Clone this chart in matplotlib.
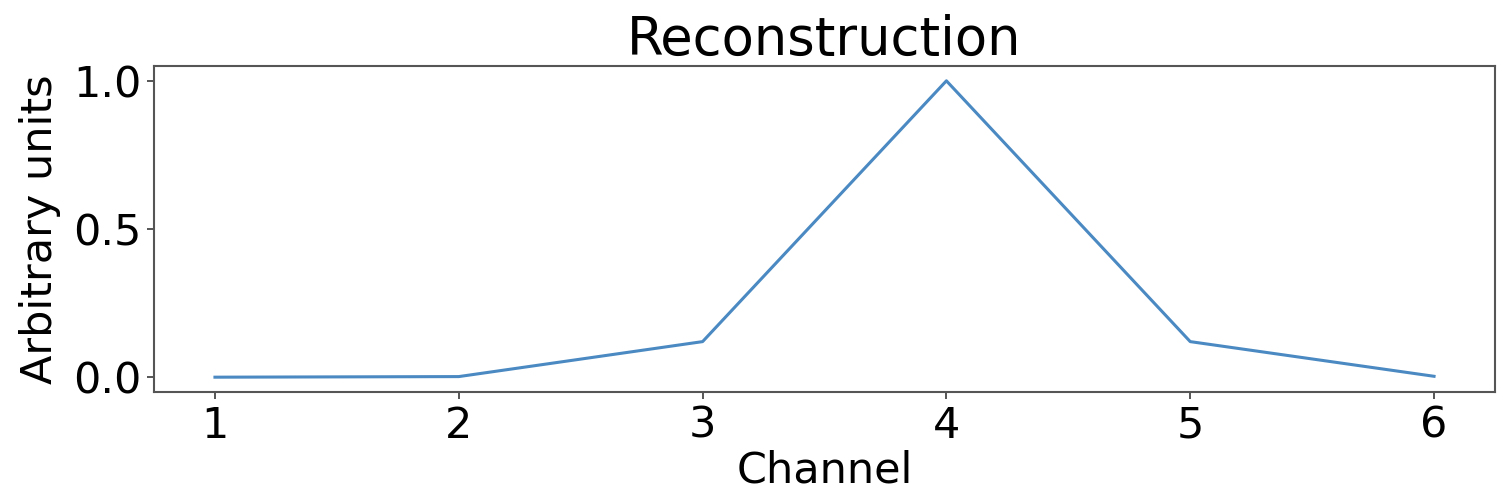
import matplotlib
matplotlib.use("Agg")
import matplotlib.pyplot as plt

# channel values of the reconstruction
channels = [1, 2, 3, 4, 5, 6]
values = [0.0, 0.002, 0.12, 1.0, 0.12, 0.003]

fig = plt.figure(figsize=(15.08, 5.04), dpi=100)
ax = fig.add_axes([154 / 1508, 1 - 392 / 504, (1495 - 154) / 1508, (392 - 66) / 504])

ax.plot(channels, values, color="#4a89c2", linewidth=2.2)

ax.set_title("Reconstruction", fontsize=38, pad=8)
ax.set_xlabel("Channel", fontsize=31, labelpad=2)
ax.set_ylabel("Arbitrary units", fontsize=31, labelpad=9)
ax.set_xticks(channels)
ax.set_yticks([0.0, 0.5, 1.0])
ax.tick_params(labelsize=31, width=1.4, length=5, pad=4, color="#555555")
for s in ax.spines.values():
    s.set_color("#555555")
    s.set_linewidth(1.5)

fig.savefig("out.png", dpi=100)
